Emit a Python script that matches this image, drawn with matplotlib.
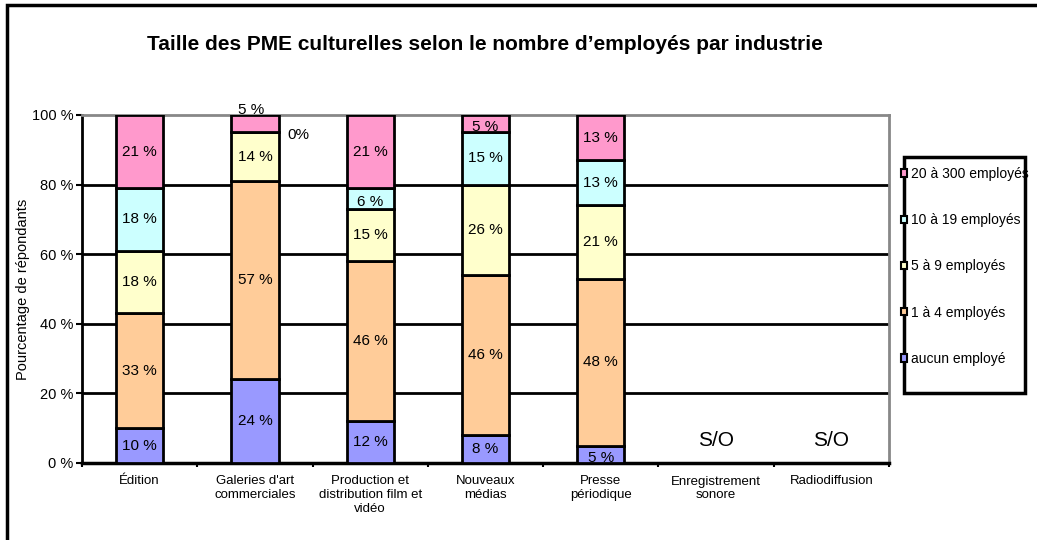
import matplotlib
matplotlib.use("Agg")
import matplotlib.pyplot as plt
import numpy as np
from matplotlib.patches import Rectangle

categories = [
    "Édition",
    "Galeries d'art\ncommerciales",
    "Production et\ndistribution film et\nvidéo",
    "Nouveaux\nmédias",
    "Presse\npériodique",
    "Enregistrement\nsonore",
    "Radiodiffusion",
]
series_names = ["aucun employé", "1 à 4 employés", "5 à 9 employés",
                "10 à 19 employés", "20 à 300 employés"]
aucun = [10, 24, 12, 8, 5, 0, 0]
un_a_quatre = [33, 57, 46, 46, 48, 0, 0]
cinq_a_neuf = [18, 14, 15, 26, 21, 0, 0]
dix_a_dixneuf = [18, 0, 6, 15, 13, 0, 0]
vingt_a_trois_cents = [21, 5, 21, 5, 13, 0, 0]
has_data = [True, True, True, True, True, False, False]
colors = ["#9999FF", "#FFCC99", "#FFFFCC", "#CCFFFF", "#FF99CC"]

series = [aucun, un_a_quatre, cinq_a_neuf, dix_a_dixneuf, vingt_a_trois_cents]

plt.rcParams["font.family"] = ["Liberation Sans", "DejaVu Sans"]

W, H = 1037, 540
fig = plt.figure(figsize=(W / 100, H / 100), dpi=100)
ax = fig.add_axes([82 / W, (H - 463) / H, 807 / W, 348 / H])

x = np.arange(len(categories))
bottom = np.zeros(len(categories))
handles = []
mask = np.array(has_data)
for name, vals, col in zip(series_names, series, colors):
    vals = np.asarray(vals, dtype=float)
    bars = ax.bar(x[mask], vals[mask], bottom=bottom[mask], width=0.41,
                  color=col, edgecolor="black", linewidth=2, label=name, zorder=3)
    handles.append(bars)
    for xi, v, b in zip(x[mask], vals[mask], bottom[mask]):
        if xi == 1 and name == "10 à 19 employés":
            # empty segment: label sits beside the bar
            ax.text(xi + 0.28, b - 0.7, f"{int(v)}%", ha="left", va="center", fontsize=11, zorder=4)
        elif xi == 1 and name == "20 à 300 employés":
            ax.text(xi - 0.03, b + v - 0.5, f"{int(v)} %", ha="center", va="bottom", fontsize=11, zorder=4)
        elif v > 0:
            ax.text(xi, b + v / 2 - (1 if v < 7 else 0), f"{int(v)} %", ha="center", va="center",
                    fontsize=11, zorder=4)
    bottom += vals

for xi, ok in zip(x, has_data):
    if not ok:
        ax.text(xi, 6.5, "S/O", ha="center", va="center", fontsize=15)

ax.set_xlim(-0.5, len(categories) - 0.5)
ax.set_ylim(0, 100)
ax.set_yticks(np.arange(0, 101, 20), [f"{v} %" for v in range(0, 101, 20)], fontsize=10.5)
ax.set_xticks(x, categories, fontsize=9.5)
ax.tick_params(axis="x", length=0, pad=9)
ax.set_xticks(np.arange(-0.5, len(categories)), minor=True)
ax.tick_params(axis="x", which="minor", length=3, width=1.5)
ax.tick_params(axis="y", length=4, width=1.5, pad=2)
for yv in range(20, 100, 20):
    ax.axhline(yv, color="black", linewidth=2, zorder=1)
ax.spines["left"].set_linewidth(2)
ax.spines["bottom"].set_linewidth(2.5)
ax.spines["top"].set_color("#888888")
ax.spines["right"].set_color("#888888")
ax.spines["top"].set_linewidth(2)
ax.spines["right"].set_linewidth(2)

ax.set_ylabel("Pourcentage de répondants", fontsize=10.5)
ax.yaxis.set_label_coords(-52 / 807, 0.5)

fig.text(485 / W, 1 - 44 / H, "Taille des PME culturelles selon le nombre d’employés par industrie",
         ha="center", va="center", fontsize=15, fontweight="bold")

leg = fig.legend(handles[::-1], series_names[::-1], loc="upper left",
                 bbox_to_anchor=(901 / W, 1 - 167 / H), fontsize=10, labelspacing=2.32,
                 handlelength=0.45, handleheight=0.45, handletextpad=0.25,
                 borderpad=0, borderaxespad=0, frameon=False)
for h in leg.legend_handles:
    h.set_linewidth(1.5)

fig.patches.append(Rectangle((904 / W, 1 - 393 / H), 121 / W, 236 / H, transform=fig.transFigure,
                             fill=False, edgecolor="black", linewidth=2.5, zorder=0))
fig.patches.append(Rectangle((7 / W, -0.1), 1.2, 1 - 5 / H + 0.1, transform=fig.transFigure,
                             fill=False, edgecolor="black", linewidth=2.5))

fig.savefig("out.png", dpi=100)
